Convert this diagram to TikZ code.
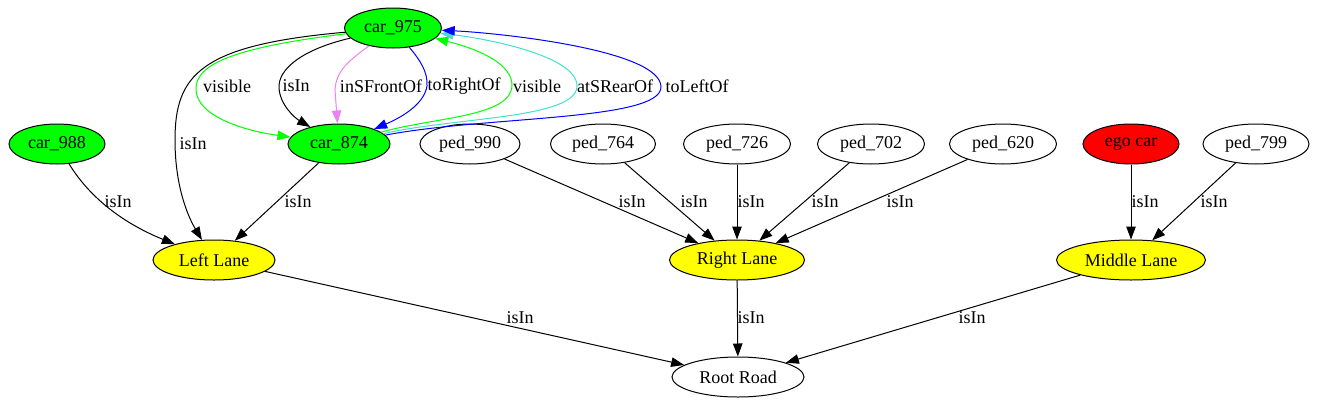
\documentclass[tikz,border=0pt]{standalone}
\usepackage{fontspec}
\setmainfont{Liberation Serif}
\usetikzlibrary{shapes.geometric,arrows.meta}
\definecolor{gvgreen}{RGB}{0,255,0}
\definecolor{gvred}{RGB}{255,0,0}
\definecolor{gvyellow}{RGB}{255,255,0}
\definecolor{gvblue}{RGB}{0,0,255}
\definecolor{gvviolet}{RGB}{238,130,238}
\definecolor{gvturq}{RGB}{64,224,208}
\begin{document}
\begin{tikzpicture}[x=1pt,y=-1pt,
  gnode/.style={ellipse,draw,inner sep=0pt,minimum height=40pt,line width=1pt,
    font=\fontsize{18}{20}\selectfont},
  elabel/.style={inner sep=0pt,font=\fontsize{18}{20}\selectfont},
  edge/.style={-{Triangle[length=13pt,width=9.5pt]},line width=1pt}]
\useasboundingbox (0,0) rectangle (1317,407);
% nodes
\node[gnode,fill=gvgreen,minimum width=97pt] (c975) at (393,28) {car\_975};
\node[gnode,fill=gvgreen,minimum width=96pt] (c988) at (57,144) {car\_988};
\node[gnode,fill=gvgreen,minimum width=102pt] (c874) at (339,144) {car\_874};
\node[gnode,minimum width=100pt] (p990) at (470,144) {ped\_990};
\node[gnode,minimum width=105pt] (p764) at (603,144) {ped\_764};
\node[gnode,minimum width=107pt] (p726) at (737,144) {ped\_726};
\node[gnode,minimum width=107pt] (p702) at (871,144) {ped\_702};
\node[gnode,minimum width=107pt] (p620) at (1003,144) {ped\_620};
\node[gnode,fill=gvred,minimum width=96pt] (ego) at (1131,144) {ego car};
\node[gnode,minimum width=106pt] (p799) at (1256,144) {ped\_799};
\node[gnode,fill=gvyellow,minimum width=122pt] (LL) at (214,260) {Left Lane};
\node[gnode,fill=gvyellow,minimum width=135pt] (RL) at (737,260) {Right Lane};
\node[gnode,fill=gvyellow,minimum width=149pt] (ML) at (1131,260) {Middle Lane};
\node[gnode,minimum width=132pt] (RR) at (738,377) {Root Road};
% edges car_975 -> car_874
\draw[edge,gvgreen] (c975) .. controls (230,48) and (195,65) .. (196,90)
  .. controls (197,115) and (240,130) .. (c874);
\draw[edge] (c975) .. controls (300,50) and (278,70) .. (279,88)
  .. controls (280,105) and (295,118) .. (c874);
\draw[edge,gvviolet] (c975) .. controls (350,60) and (336,70) .. (335,90) -- (c874);
\draw[edge,gvblue] (c975) .. controls (420,60) and (428,72) .. (427,86)
  .. controls (424,105) and (400,118) .. (c874);
% edges car_874 -> car_975
\draw[edge,gvgreen] (c874) .. controls (435,117) and (512,117) .. (512,85)
  .. controls (512,65) and (482,50) .. (c975);
\draw[edge,gvturq] (c874) .. controls (455,117) and (577,119) .. (577,86)
  .. controls (577,55) and (482,38) .. (c975);
\draw[edge,gvblue] (c874) .. controls (485,116) and (661,121) .. (661,87)
  .. controls (661,50) and (500,33) .. (c975);
% car_975 -> Left Lane
\draw[edge] (c975) .. controls (200,45) and (175,75) .. (175,140)
  .. controls (175,190) and (190,220) .. (LL);
\draw[edge] (c988) .. controls (88,195) and (120,222) .. (LL);
\draw[edge] (c874) -- (LL);
% to Right Lane
\draw[edge] (p990) -- (RL);
\draw[edge] (p764) -- (RL);
\draw[edge] (p726) -- (RL);
\draw[edge] (p702) -- (RL);
\draw[edge] (p620) -- (RL);
% to Middle Lane
\draw[edge] (ego) -- (ML);
\draw[edge] (p799) -- (ML);
% to Root Road
\draw[edge] (LL) -- (RR);
\draw[edge] (RL) -- (RR);
\draw[edge] (ML) -- (RR);
% labels
\node[elabel] (l1) at (227,86) {visible};
\node[elabel] (l2) at (296,86) {isIn};
\node[elabel] (l3) at (381,86) {inSFrontOf};
\node[elabel] (l4) at (464,86) {toRightOf};
\node[elabel] (l5) at (537,86) {visible};
\node[elabel] (l6) at (615,86) {atSRearOf};
\node[elabel] (l7) at (697,86) {toLeftOf};
\node[elabel] (l8) at (193,144) {isIn};
\node[elabel] (l9) at (118,202) {isIn};
\node[elabel] (l10) at (298,202) {isIn};
\node[elabel] (l11) at (632,202) {isIn};
\node[elabel] (l12) at (694,202) {isIn};
\node[elabel] (l13) at (751,202) {isIn};
\node[elabel] (l14) at (825,202) {isIn};
\node[elabel] (l15) at (900,202) {isIn};
\node[elabel] (l16) at (1145,202) {isIn};
\node[elabel] (l17) at (1214,202) {isIn};
\node[elabel] (l18) at (520,318) {isIn};
\node[elabel] (l19) at (751,318) {isIn};
\node[elabel] (l20) at (972,318) {isIn};
\end{tikzpicture}
\end{document}
